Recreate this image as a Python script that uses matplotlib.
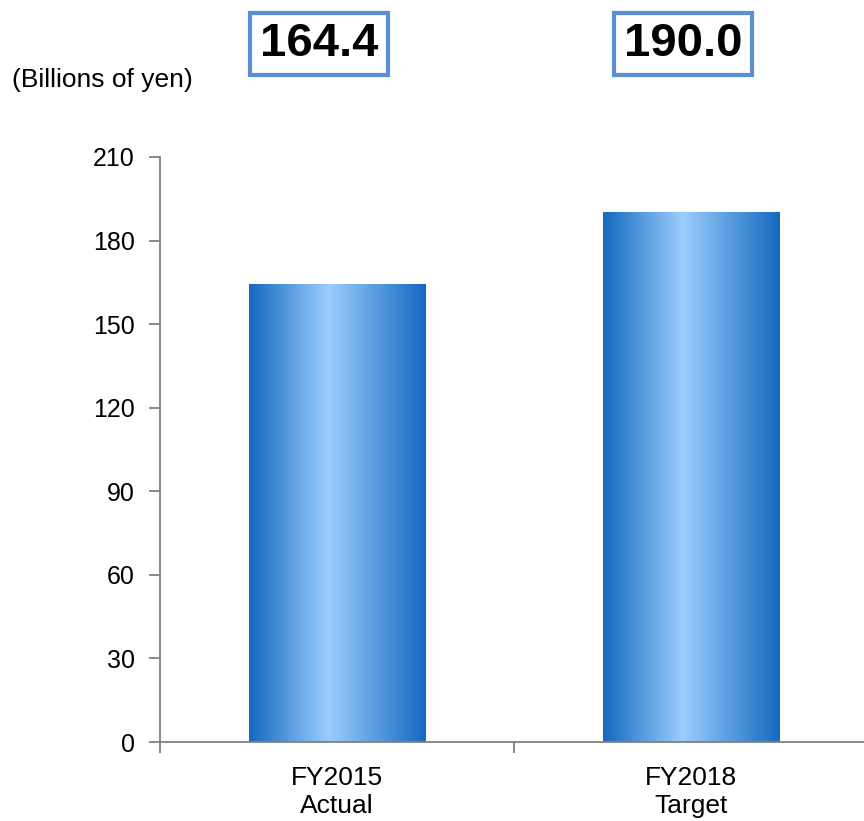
import matplotlib.pyplot as plt
import numpy as np
from matplotlib.colors import LinearSegmentedColormap

plt.rcParams['font.family'] = ['Liberation Sans', 'DejaVu Sans']

categories = ["FY2015\nActual", "FY2018\nTarget"]
values = [164.4, 190.0]
box_labels = ["164.4", "190.0"]
yticks = [0, 30, 60, 90, 120, 150, 180, 210]

bar_width = 0.5
grad = LinearSegmentedColormap.from_list(
    "bar", [(0, "#1469c0"), (0.45, "#9ccdfd"), (1, "#1469c0")])

fig = plt.figure(figsize=(8.64, 8.21), dpi=100)
ax = fig.add_axes([160 / 864, (821 - 742) / 821, 708 / 864, 585 / 821])

# gradient-filled bars
row = np.linspace(0, 1, 256).reshape(1, -1)
for i, v in enumerate(values):
    ax.imshow(row, cmap=grad, aspect="auto", interpolation="bicubic",
              extent=[i - bar_width / 2, i + bar_width / 2, 0, v], zorder=2)

ax.set_xlim(-0.5, 1.5)
ax.set_ylim(0, 210)
ax.set_yticks(yticks)
ax.tick_params(axis="y", length=8, width=1.3, color="#808080",
               labelsize=18, pad=10)

# major ticks at category boundaries, labels on minor ticks
ax.set_xticks([-0.5, 0.5, 1.5])
ax.set_xticklabels([])
ax.set_xticks([0, 1], minor=True)
ax.set_xticklabels(categories, minor=True, fontsize=19, linespacing=1.25)
ax.tick_params(axis="x", which="major", length=8, width=1.3, color="#808080")
ax.tick_params(axis="x", which="minor", length=0, pad=17)

for s in ["top", "right"]:
    ax.spines[s].set_visible(False)
for s in ["left", "bottom"]:
    ax.spines[s].set_color("#808080")
    ax.spines[s].set_linewidth(1.3)

fig.text(12 / 864, 1 - 80 / 821, "(Billions of yen)", fontsize=19,
         va="center", ha="left")

box_x = [319, 683]
for x, lab in zip(box_x, box_labels):
    fig.text(x / 864, 1 - 44 / 821, lab, fontsize=34, fontweight="bold",
             ha="center", va="center",
             bbox=dict(boxstyle="square,pad=0.2", fc="white",
                       ec="#5b8ed6", lw=3))

fig.savefig("out.png", dpi=100)
